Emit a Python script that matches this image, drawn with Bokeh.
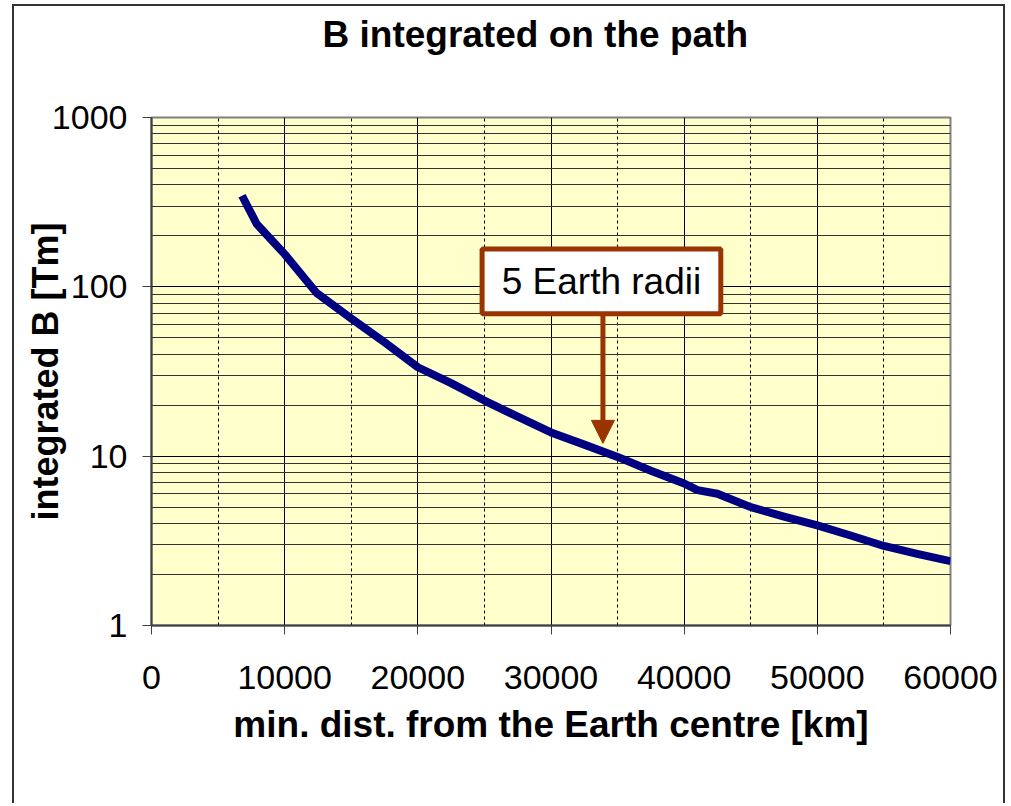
from bokeh.plotting import figure
from bokeh.models import (FixedTicker, PrintfTickFormatter, BoxAnnotation, Label,
                          Arrow, NormalHead, Range1d, Title)
from bokeh.embed import file_html
from bokeh.resources import INLINE

# distance from Earth centre [km]
dist_km = [6800, 7900, 9100, 10000, 12400, 15000, 17500, 20000, 22500, 25000,
           27500, 30000, 32500, 35000, 37500, 40000, 41000, 42500, 45000,
           47500, 50000, 52500, 55000, 57500, 60000]
# integrated B [Tm]
b_int = [345, 235, 186, 156, 92, 65, 47, 33.5, 27, 21.3,
         17.1, 13.8, 11.7, 9.9, 8.2, 6.9, 6.3, 6.0, 5.0,
         4.4, 3.9, 3.4, 2.95, 2.65, 2.4]

x_ticks = [0, 10000, 20000, 30000, 40000, 50000, 60000]
x_minor = [5000, 15000, 25000, 35000, 45000, 55000]
y_ticks = [1, 10, 100, 1000]
y_minor = [m * d for d in (1, 10, 100) for m in range(2, 10)]

FONT = "Liberation Sans"

p = figure(width=989, height=797, y_axis_type="log",
           x_range=Range1d(0, 60000), y_range=Range1d(1, 1000),
           output_backend="svg", toolbar_location=None,
           min_border_left=137, min_border_right=53,
           min_border_top=110, min_border_bottom=178,
           background_fill_color="#FFFFCC", border_fill_color="white",
           outline_line_color="#808080", outline_line_width=2,
           margin=(6, 0, 0, 14),
           styles={"box-shadow": "-2px 0 0 0 #333333, 2px 0 0 0 #333333, "
                                 "0 -2px 0 0 #333333, -2px -2px 0 0 #333333, "
                                 "2px -2px 0 0 #333333"})

# title: a thin spacer title next to the frame, then the real title above it
p.add_layout(Title(text=" ", text_font_size="1px", standoff=55), "above")
p.add_layout(Title(text="B integrated on the path", align="left", offset=171,
                   standoff=10, text_font=FONT, text_font_size="37px",
                   text_font_style="bold", text_color="black"), "above")

# axes
p.xaxis.ticker = FixedTicker(ticks=x_ticks, minor_ticks=x_minor)
p.yaxis.ticker = FixedTicker(ticks=y_ticks, minor_ticks=y_minor)
p.yaxis.formatter = PrintfTickFormatter(format="%d")
p.xaxis.formatter = PrintfTickFormatter(format="%d")
for ax in (p.xaxis, p.yaxis):
    ax.axis_line_color = "#404040"
    ax.axis_line_width = 2
    ax.major_tick_line_color = "#404040"
    ax.major_tick_line_width = 1
    ax.major_tick_out = 9
    ax.major_tick_in = 0
    ax.minor_tick_line_color = None
    ax.major_label_text_font = FONT
    ax.major_label_text_font_size = "34px"
    ax.major_label_text_color = "black"
    ax.axis_label_text_font = FONT
    ax.axis_label_text_font_style = "bold"
    ax.axis_label_text_color = "black"
p.xaxis.axis_label = "min. dist. from the Earth centre [km]"
p.yaxis.axis_label = "integrated B [Tm]"
p.xaxis.axis_label_text_font_size = "37px"
p.yaxis.axis_label_text_font_size = "36px"
p.xaxis.major_label_standoff = 31
p.yaxis.major_label_standoff = 15
p.xaxis.axis_label_standoff = 12
p.yaxis.axis_label_standoff = -17

# grids
p.xgrid.grid_line_color = "black"
p.xgrid.grid_line_width = 1
p.xgrid.minor_grid_line_color = "black"
p.xgrid.minor_grid_line_dash = "3 3"
p.ygrid.grid_line_color = "black"
p.ygrid.grid_line_width = 1
p.ygrid.minor_grid_line_color = "#333333"
p.ygrid.minor_grid_line_width = 1

# curve
p.line(dist_km, b_int, line_color="#000080", line_width=8,
       line_join="round", line_cap="butt")

# annotation box + arrow
box = BoxAnnotation(left=24825, right=42750, bottom=69.4, top=167.5,
                    fill_color="white", fill_alpha=1.0,
                    line_color="#993300", line_width=5, line_alpha=1.0)
p.add_layout(box)
p.add_layout(Label(x=33790, y=107, text="5 Earth radii", text_align="center",
                   text_baseline="middle", text_font=FONT,
                   text_font_size="37px", text_color="black"))
p.add_layout(Arrow(end=NormalHead(size=23, fill_color="#993300",
                                  line_color="#993300"),
                   x_start=33900, y_start=69.4, x_end=33900, y_end=11.9,
                   line_color="#993300", line_width=5))

open("out.html", "w").write(file_html(p, INLINE))
